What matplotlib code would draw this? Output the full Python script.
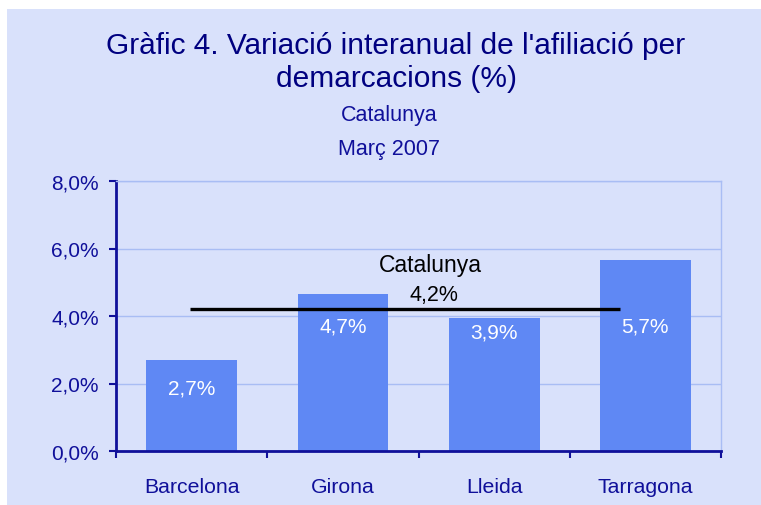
import numpy as np
import matplotlib
matplotlib.use('Agg')
import matplotlib.pyplot as plt
from matplotlib.patches import Rectangle

# --- Data ---
demarcacions = ['Barcelona', 'Girona', 'Lleida', 'Tarragona']
variacio = [2.70, 4.66, 3.94, 5.66]        # % interanual
etiquetes = ['2,7%', '4,7%', '3,9%', '5,7%']
catalunya = 4.2
y_ticks = [0, 2, 4, 6, 8]

# --- Styles ---
plt.rcParams['font.family'] = ['Liberation Sans', 'DejaVu Sans']
navy = '#10109A'
title_col = '#000080'
bg = '#D9E1FB'
bar_col = '#5F88F4'
grid_col = '#A9BDF4'

fig = plt.figure(figsize=(7.61, 5.06), dpi=100, facecolor='white')
fig.patches.append(Rectangle((7 / 761, 0), 1, (506 - 10) / 506,
                             transform=fig.transFigure, facecolor=bg,
                             edgecolor='none', zorder=-10))

ax = fig.add_axes([116 / 761, 54 / 506, 605 / 761, 270 / 506])
ax.set_zorder(5)
ax.set_facecolor(bg)

x = np.arange(len(demarcacions))
ax.bar(x, variacio, width=0.6, color=bar_col, zorder=2)

# label positions inside the bars (data units)
label_y = [1.87, 3.70, 3.53, 3.70]
for xi, ly, txt in zip(x, label_y, etiquetes):
    ax.text(xi, ly, txt, color='white', fontsize=15, ha='center', va='center', zorder=4)

# Catalunya average line
ax.plot([-0.01, 2.83], [catalunya, catalunya], color='black', lw=2.4,
        solid_capstyle='butt', zorder=3)
ax.text(1.58, 5.52, 'Catalunya', fontsize=16.5, ha='center', va='center', zorder=4)
ax.text(1.60, 4.64, '4,2%', fontsize=15.5, ha='center', va='center', zorder=4)

ax.set_xlim(-0.5, 3.5)
ax.set_ylim(0, 8)
ax.set_yticks(y_ticks)
ax.set_yticklabels([f'{v:.1f}%'.replace('.', ',') for v in y_ticks])
ax.yaxis.grid(True, color=grid_col, lw=1, zorder=1)
ax.set_axisbelow(True)

ax.set_xticks([-0.5, 0.5, 1.5, 2.5, 3.5])
ax.set_xticklabels([])
ax.set_xticks(x, minor=True)
ax.set_xticklabels(demarcacions, minor=True)
ax.tick_params(axis='x', which='minor', length=0, pad=18.5, labelsize=15.3, labelcolor=navy)
ax.tick_params(axis='x', which='major', length=5, width=1.5, color=navy)
ax.tick_params(axis='y', length=5, width=1.5, color=navy, labelsize=15,
               labelcolor=navy, pad=7.5)

for s in ['left', 'bottom']:
    ax.spines[s].set_color(navy)
    ax.spines[s].set_linewidth(2)
for s in ['top', 'right']:
    ax.spines[s].set_color(grid_col)
    ax.spines[s].set_linewidth(1)

# --- Titles ---
fig.text(396 / 761, 1 - 46 / 506, "Gràfic 4. Variació interanual de l'afiliació per",
         fontsize=21.5, color=title_col, ha='center', va='center')
fig.text(396 / 761, 1 - 79 / 506, 'demarcacions (%)',
         fontsize=21.5, color=title_col, ha='center', va='center')
fig.text(389 / 761, 1 - 115 / 506, 'Catalunya', fontsize=15.5, color=navy,
         ha='center', va='center')
fig.text(389 / 761, 1 - 149 / 506, 'Març 2007', fontsize=15.5, color=navy,
         ha='center', va='center')

fig.savefig('out.png', dpi=100, facecolor=fig.get_facecolor())
